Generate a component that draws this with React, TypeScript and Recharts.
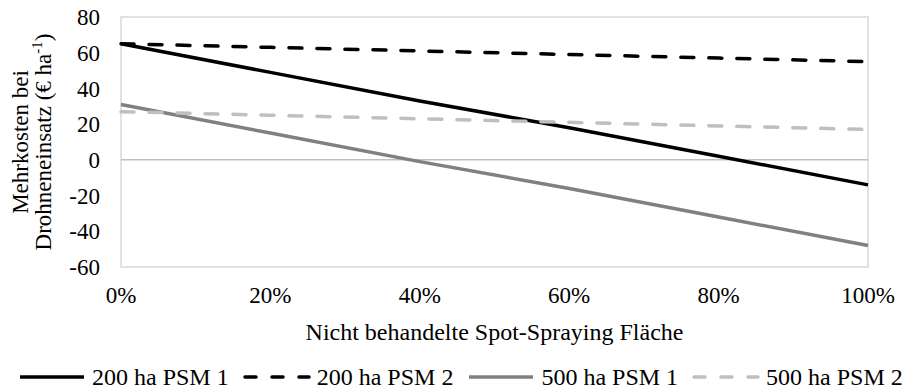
import React from 'react';
import { LineChart, Line, XAxis, YAxis, ReferenceLine, ReferenceArea, Legend } from 'recharts';

// Anteil nicht behandelter Fläche (x-Achse)
const shares = ['0%', '20%', '40%', '60%', '80%', '100%'];

// Mehrkosten bei Drohneneinsatz (€/ha)
const ha200Psm1 = [65, 49, 33, 18, 2, -14];
const ha200Psm2 = [65, 63, 61, 59, 57, 55];
const ha500Psm1 = [31, 15, -1, -16, -32, -48];
const ha500Psm2 = [27, 25, 23, 21, 19, 17];

const yTicks = [-60, -40, -20, 0, 20, 40, 60, 80];

const FONT = 'Liberation Serif, DejaVu Serif, serif';

const series = [
  { key: 'a', name: '200 ha PSM 1', values: ha200Psm1, color: '#000000', dash: undefined, legendDash: undefined },
  { key: 'b', name: '200 ha PSM 2', values: ha200Psm2, color: '#000000', dash: '13 15', legendDash: '11 16' },
  { key: 'c', name: '500 ha PSM 1', values: ha500Psm1, color: '#808080', dash: undefined, legendDash: undefined },
  { key: 'd', name: '500 ha PSM 2', values: ha500Psm2, color: '#bfbfbf', dash: '13 15', legendDash: '11 16' },
];

const data = shares.map((x, i) => {
  const row: Record<string, string | number> = { x };
  series.forEach((s) => { row[s.key] = s.values[i]; });
  return row;
});

function YTitle(props: any) {
  const vb = props.viewBox || { x: 0, y: 0, width: 0, height: 0 };
  const cy = vb.y + vb.height / 2;
  return (
    <g fontFamily={FONT} fontSize={23} fill="#000">
      <text x={28} y={cy} textAnchor="middle" transform={`rotate(-90, 28, ${cy})`}>Mehrkosten bei</text>
      <text x={51} y={cy} textAnchor="middle" transform={`rotate(-90, 51, ${cy})`}>
        Drohneneinsatz (€ ha<tspan dy={-9} fontSize={15}>-1</tspan><tspan dy={9}>)</tspan>
      </text>
    </g>
  );
}

function LegendBox() {
  return (
    <div style={{ display: 'flex', justifyContent: 'flex-start', alignItems: 'center', height: 30, fontFamily: FONT, fontSize: 24, color: '#000', paddingLeft: 18 }}>
      {series.map((s, i) => (
        <div key={s.key} style={{ display: 'flex', alignItems: 'center', marginLeft: i === 0 ? 0 : 14 }}>
          <svg width={68} height={10} style={{ marginRight: 6 }}>
            <line x1={2} y1={5} x2={66} y2={5} stroke={s.color} strokeWidth={3.5} strokeDasharray={s.legendDash} strokeLinecap={s.legendDash ? 'round' : 'butt'} />
          </svg>
          <span style={{ whiteSpace: 'nowrap' }}>{s.name}</span>
        </div>
      ))}
    </div>
  );
}

export default function App() {
  return (
    <div style={{ position: 'absolute', left: 0, top: 0, width: 909, height: 392, background: '#fff', fontFamily: FONT }}>
      <LineChart width={909} height={392} data={data} margin={{ top: 17, right: 41, left: 0, bottom: 0 }}>
        <ReferenceArea x1="0%" x2="100%" y1={-60} y2={80} fill="none" stroke="#d9d9d9" strokeWidth={1.5} />
        <ReferenceLine y={0} stroke="#bfbfbf" strokeWidth={1.5} />
        <XAxis
          dataKey="x"
          axisLine={false}
          tickLine={false}
          tickMargin={14}
          height={95}
          interval={0}
          tick={{ fill: '#000', fontSize: 23, fontFamily: FONT }}
          label={{ value: 'Nicht behandelte Spot-Spraying Fläche', position: 'insideBottom', offset: 22, fill: '#000', fontSize: 24, fontFamily: FONT }}
        />
        <YAxis
          domain={[-60, 80]}
          ticks={yTicks}
          axisLine={false}
          tickLine={false}
          tickMargin={15}
          width={121}
          interval={0}
          tick={{ fill: '#000', fontSize: 23, fontFamily: FONT }}
          label={<YTitle />}
        />
        {series.map((s) => (
          <Line
            key={s.key}
            dataKey={s.key}
            name={s.name}
            stroke={s.color}
            strokeWidth={3.5}
            strokeDasharray={s.dash}
            strokeLinecap={s.dash ? 'round' : 'butt'}
            dot={false}
            activeDot={false}
            isAnimationActive={false}
          />
        ))}
        <Legend verticalAlign="bottom" content={<LegendBox />} wrapperStyle={{ bottom: 0 }} />
      </LineChart>
    </div>
  );
}
